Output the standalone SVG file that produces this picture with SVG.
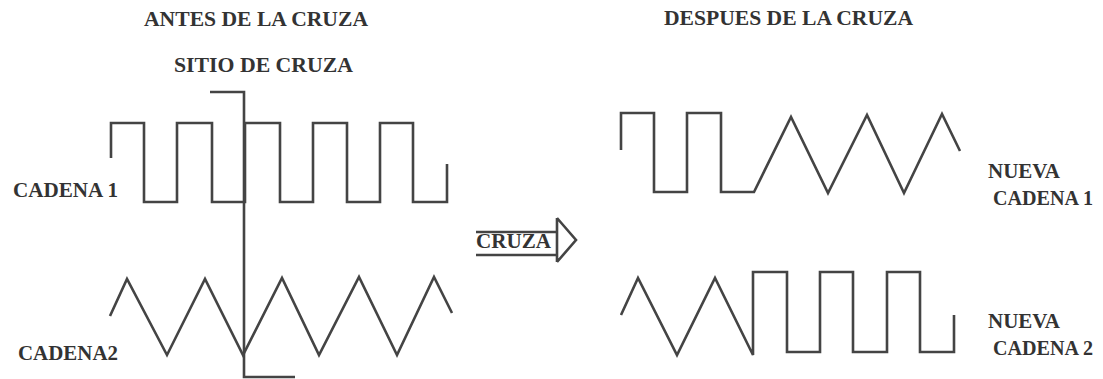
<svg xmlns="http://www.w3.org/2000/svg" width="1103" height="379" viewBox="0 0 1103 379">
<style>
.w{fill:none;stroke:#444;stroke-width:2.6;stroke-linejoin:miter;stroke-linecap:butt}
.t{font-family:"Liberation Serif","Times New Roman",serif;font-weight:bold;fill:#333}
.h{font-size:21.5px}
.l{font-size:21px}
.r{font-size:20px}
</style>
<rect width="1103" height="379" fill="#fff"/>
<g id="titles">
<text class="t h" x="144" y="26" textLength="224" lengthAdjust="spacingAndGlyphs">ANTES DE LA CRUZA</text>
<text class="t h" x="664" y="25" textLength="249" lengthAdjust="spacingAndGlyphs">DESPUES DE LA CRUZA</text>
</g>
<g id="sitio">
<text class="t h" x="174" y="72" textLength="179" lengthAdjust="spacingAndGlyphs">SITIO DE CRUZA</text>
<path class="w" d="M210,92 H244 V377 H295"/>
</g>
<g id="cadena1">
<path class="w" d="M111,158 V123 H144 V202 H177 V123 H212 V202 H245 V123 H280 V202 H313 V123 H347 V202 H380 V123 H413 V202 H447 V164"/>
<text class="t l" x="13" y="197" textLength="105" lengthAdjust="spacingAndGlyphs">CADENA 1</text>
</g>
<g id="cadena2">
<path class="w" d="M110,316 L127,279 L167,355 L205,279 L243,355 L282,278 L319,355 L359,277 L397,355 L434,277 L452,313"/>
<text class="t l" x="18" y="360" textLength="100" lengthAdjust="spacingAndGlyphs">CADENA2</text>
</g>
<g id="cruza">
<path class="w" d="M476,232 H557 M476,255 H557 M557,218 V262 M557,218 L576,240 L557,262"/>
<text class="t l" x="476" y="248" textLength="75" lengthAdjust="spacingAndGlyphs">CRUZA</text>
</g>
<g id="nueva1">
<path class="w" d="M621,150 V113 H654 V192 H687 V113 H721 V192 H754 L791,117 L828,193 L867,115 L904,193 L942,114 L960,151"/>
<text class="t r" x="988" y="178" textLength="72" lengthAdjust="spacingAndGlyphs">NUEVA</text>
<text class="t r" x="993" y="205" textLength="100" lengthAdjust="spacingAndGlyphs">CADENA 1</text>
</g>
<g id="nueva2">
<path class="w" d="M621,315 L638,278 L677,355 L715,278 L753,355 V272 H787 V352 H820 V272 H853 V352 H887 V272 H920 V352 H954 V315"/>
<text class="t r" x="988" y="328" textLength="72" lengthAdjust="spacingAndGlyphs">NUEVA</text>
<text class="t r" x="993" y="355" textLength="100" lengthAdjust="spacingAndGlyphs">CADENA 2</text>
</g>
</svg>
